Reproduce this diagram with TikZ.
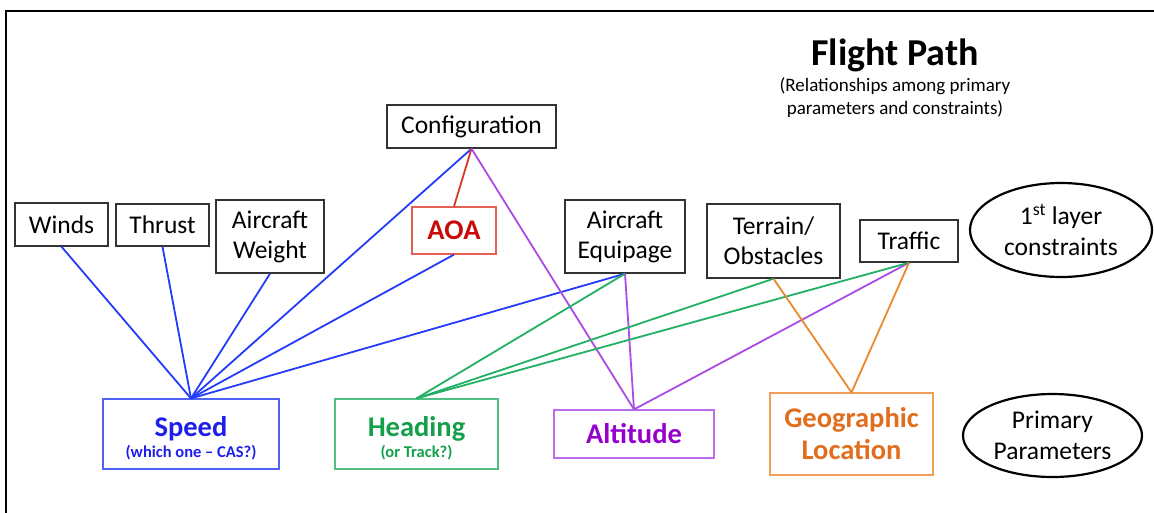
\documentclass[tikz,border=0pt]{standalone}
\usepackage{fontspec}
\setmainfont{Carlito}
\usetikzlibrary{shapes.geometric}
\definecolor{cblue}{RGB}{35,60,250}
\definecolor{tblue}{RGB}{30,30,235}
\definecolor{cgreen}{RGB}{35,175,100}
\definecolor{tgreen}{RGB}{20,160,75}
\definecolor{cpurple}{RGB}{170,75,230}
\definecolor{tpurple}{RGB}{150,0,205}
\definecolor{corange}{RGB}{235,135,45}
\definecolor{torange}{RGB}{225,110,30}
\definecolor{cred}{RGB}{215,55,35}
\definecolor{tred}{RGB}{200,10,10}
\definecolor{bred}{RGB}{230,95,85}
\tikzset{
  blackbox/.style={draw=black!80, line width=1.4pt, align=center, inner sep=0pt,
    font=\fontsize{25.5}{30}\selectfont},
  colbox/.style={draw=#1, line width=1.2pt, align=center, inner sep=0pt},
  oval/.style={draw=black, line width=2.2pt, ellipse, align=center, inner sep=0pt,
    font=\fontsize{25.5}{31}\selectfont},
  link/.style={draw=#1, line width=1.8pt},
  big/.style={font=\fontsize{28.5}{32}\selectfont\bfseries}
}
\begin{document}
\begin{tikzpicture}[x=1pt,y=-1pt]
\useasboundingbox (0,0) rectangle (1154,512);
\begin{scope}
\clip (0,0) rectangle (1154,512);
\draw[line width=2pt] (6,11) rectangle (1180,540);
\end{scope}
% title
\node[font=\fontsize{38}{40}\selectfont\bfseries] (title) at (895,55) {Flight Path};
\node[align=center, font=\fontsize{19}{23}\selectfont] (sub) at (895,98) {(Relationships among primary\\parameters and constraints)};
% top layer
\node[blackbox, minimum width=93, minimum height=43] (winds) at (61.5,224.5) {Winds};
\node[blackbox, minimum width=93, minimum height=42] (thrust) at (162.5,225) {Thrust};
\node[blackbox, minimum width=108, minimum height=73] (weight) at (270,236.5) {Aircraft\\Weight};
\node[blackbox, minimum width=169, minimum height=43] (config) at (471.5,126.5) {Configuration};
\node[colbox=bred, minimum width=84, minimum height=47, text=tred, big] (aoa) at (454,230.5) {AOA};
\node[blackbox, minimum width=120, minimum height=73] (equip) at (625,236.5) {Aircraft\\Equipage};
\node[blackbox, minimum width=133, minimum height=74] (terrain) at (773.5,241) {Terrain/\\Obstacles};
\node[blackbox, minimum width=98, minimum height=42] (traffic) at (909,241) {Traffic};
\node[oval, minimum width=182, minimum height=94] (layer) at (1061,230) {1\textsuperscript{st} layer\\constraints};
% bottom layer
\node[colbox=cblue!80, minimum width=176, minimum height=70] (speed) at (191,434)
  {\fontsize{28.5}{30}\selectfont\bfseries\color{tblue}\rule{0pt}{29pt}Speed\\[3pt]\fontsize{16.5}{17}\selectfont\bfseries\color{tblue}(which one -- CAS?)};
\node[colbox=cgreen!80, minimum width=163, minimum height=70] (heading) at (416.5,434)
  {\fontsize{28.5}{30}\selectfont\bfseries\color{tgreen}\rule{0pt}{29pt}Heading\\[3pt]\fontsize{16.5}{17}\selectfont\bfseries\color{tgreen}(or Track?)};
\node[colbox=cpurple!80, minimum width=160, minimum height=48, text=tpurple, big] (alt) at (634,434) {Altitude};
\node[colbox=corange!80, minimum width=163, minimum height=82, text=torange, big] (geo) at (851.5,434) {Geographic\\Location};
\node[oval, minimum width=179, minimum height=83] (prim) at (1052.5,435.5) {Primary\\Parameters};
% connectors
\path[link=cblue] (winds.south) -- (speed.north);
\path[link=cblue] (thrust.south) -- (speed.north);
\path[link=cblue] (weight.south) -- (speed.north);
\path[link=cblue] (config.south) -- (speed.north);
\path[link=cblue] (aoa.south) -- (speed.north);
\path[link=cblue] (equip.south) -- (speed.north);
\path[link=cred] (config.south) -- (aoa.north);
\path[link=cpurple] (config.south) -- (alt.north);
\path[link=cpurple] (equip.south) -- (alt.north);
\path[link=cpurple] (traffic.south) -- (alt.north);
\path[link=cgreen] (equip.south) -- (heading.north);
\path[link=cgreen] (terrain.south) -- (heading.north);
\path[link=cgreen] (traffic.south) -- (heading.north);
\path[link=corange] (terrain.south) -- (geo.north);
\path[link=corange] (traffic.south) -- (geo.north);
\end{tikzpicture}
\end{document}
